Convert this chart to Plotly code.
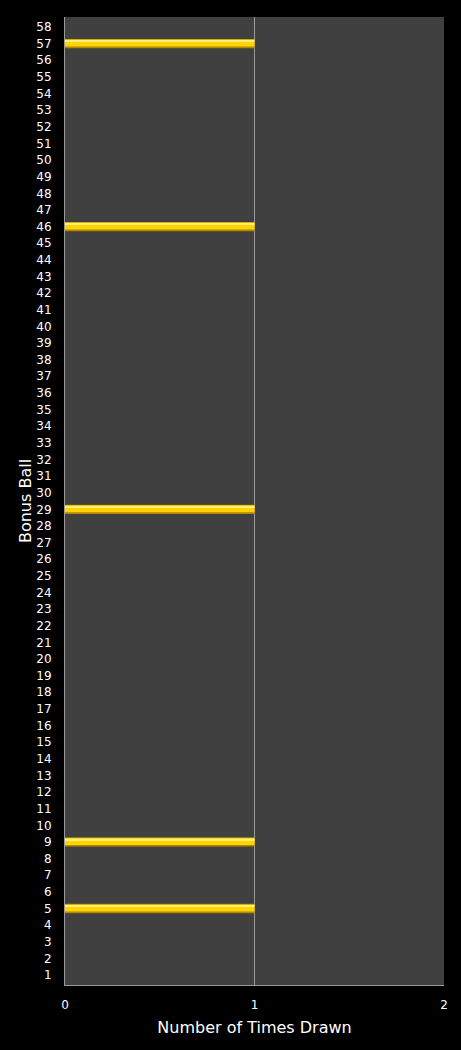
import plotly.graph_objects as go

# Bonus ball numbers and how often each was drawn
balls = list(range(1, 59))
drawn_balls = [5, 9, 29, 46, 57]
times_drawn = [1 if b in drawn_balls else 0 for b in balls]

x_ticks = [0, 1, 2]

fig = go.Figure()

# layered bars fake the glossy gold look: dark edge, gold body, light highlight
fig.add_trace(go.Bar(
    x=times_drawn, y=balls, orientation='h',
    width=0.56, offset=-0.28,
    marker=dict(color='#B38600', line=dict(width=0)),
    showlegend=False, hoverinfo='skip'
))
fig.add_trace(go.Bar(
    x=times_drawn, y=balls, orientation='h',
    width=0.42, offset=-0.18,
    marker=dict(color='#FFD400', line=dict(width=0)),
    showlegend=False,
    hovertemplate='Ball %{y}: %{x}<extra></extra>'
))
fig.add_trace(go.Bar(
    x=times_drawn, y=balls, orientation='h',
    width=0.1, offset=0.1,
    marker=dict(color='#FFF07A', line=dict(width=0)),
    showlegend=False, hoverinfo='skip'
))

fig.update_layout(
    barmode='overlay',
    width=461, height=1050,
    margin=dict(l=65, r=17, t=17, b=65),
    paper_bgcolor='#000000',
    plot_bgcolor='#404040',
    font=dict(family='DejaVu Sans', color='white', size=12),
    xaxis=dict(
        range=[0, 2],
        tickvals=x_ticks,
        showgrid=True, gridcolor='#9a9a9a', gridwidth=1,
        zeroline=False,
        showline=True, linecolor='#9a9a9a', linewidth=1,
        ticks='outside', ticklen=9, tickcolor='#000000',
        tickfont=dict(size=12),
        title=dict(text='Number of Times Drawn', font=dict(size=16), standoff=10)
    ),
    yaxis=dict(
        range=[0.4, 58.6],
        tickvals=balls,
        showgrid=False, zeroline=False,
        showline=True, linecolor='#9a9a9a', linewidth=1,
        ticks='outside', ticklen=10, tickcolor='#000000',
        tickfont=dict(size=12),
        title=dict(text='Bonus Ball', font=dict(size=16), standoff=0)
    )
)

fig.write_html('out.html', config={'displayModeBar': False},
               post_script="document.body.style.margin='0';document.body.style.background='#000';")
